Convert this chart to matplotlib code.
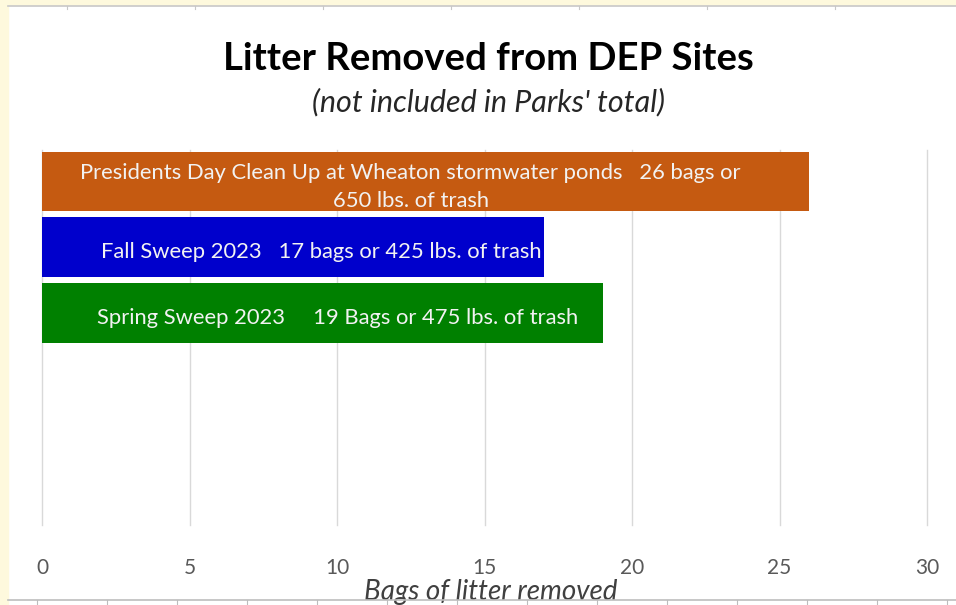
import matplotlib.pyplot as plt
from matplotlib.lines import Line2D
from matplotlib.patches import Rectangle

# chart data
events = ["Presidents Day", "Fall Sweep 2023", "Spring Sweep 2023"]
bags = [26, 17, 19]
bar_colors = ["#C55A11", "#0000CC", "#008000"]
bar_labels = [
    "Presidents Day Clean Up at Wheaton stormwater ponds   26 bags or\n650 lbs. of trash",
    "Fall Sweep 2023   17 bags or 425 lbs. of trash",
    "Spring Sweep 2023     19 Bags or 475 lbs. of trash",
]
x_ticks = [0, 5, 10, 15, 20, 25, 30]

# where the label text sits inside each bar (data units)
label_x = [12.5, 9.46, 10.03]

FONT = "Lato"

fig = plt.figure(figsize=(9.56, 6.05), dpi=100)
fig.patch.set_facecolor("white")

# cream screenshot border on the left and top
fig.add_artist(Rectangle((0, 0), 8 / 956, 1, transform=fig.transFigure,
                         color="#FEF9DD", zorder=0))
fig.add_artist(Rectangle((0, 1 - 5 / 605), 1, 5 / 605, transform=fig.transFigure,
                         color="#FEF9DD", zorder=0))
fig.add_artist(Line2D([8 / 956, 1], [1 - 6 / 605] * 2, transform=fig.transFigure,
                      color="#C8C8C8", lw=1.2))
fig.add_artist(Line2D([8 / 956, 1], [1 - 600 / 605] * 2, transform=fig.transFigure,
                      color="#BDBDBD", lw=1.2, zorder=5))
for px in range(67, 956, 128):
    fig.add_artist(Line2D([px / 956] * 2, [1 - 6 / 605, 1 - 9 / 605],
                          transform=fig.transFigure, color="#C8C8C8", lw=0.8))
for px in range(37, 956, 70):
    fig.add_artist(Line2D([px / 956] * 2, [1 - 600 / 605, 0],
                          transform=fig.transFigure, color="#BDBDBD", lw=0.8))

ax = fig.add_axes([42 / 956, 80 / 605, 885 / 956, 375 / 605])
ypos = list(range(len(events)))
ax.barh(ypos, bags, height=0.91, color=bar_colors, zorder=2)

for y, lx, txt in zip(ypos, label_x, bar_labels):
    ax.text(lx, y + 0.08, txt, ha="center", va="center", color="#F2F2F2",
            fontsize=15.8, family=FONT, linespacing=1.5, zorder=3)

ax.set_xlim(0, 30)
ax.set_ylim(5.23, -0.48)
ax.set_xticks(x_ticks)
ax.set_xticklabels([str(t) for t in x_ticks], family=FONT, fontsize=15,
                   color="#595959")
ax.set_yticks([])
ax.tick_params(axis="x", length=0, pad=24)
ax.grid(axis="x", color="#D9D9D9", lw=1, zorder=0)
for gl in ax.get_xgridlines():
    gl.set_clip_on(False)
for s in ax.spines.values():
    s.set_visible(False)

fig.text(491 / 956, 1 - 600 / 605, "Bags of litter removed", ha="center",
         va="baseline", style="italic", family=FONT, fontsize=20, color="#404040")
fig.text(488 / 956, 1 - 70 / 605, "Litter Removed from DEP Sites", ha="center",
         va="baseline", weight="bold", family=FONT, fontsize=27.5, color="black")
fig.text(488 / 956, 1 - 102 / 605, "(not included in Parks' total)", ha="center",
         va="center", style="italic", family=FONT, fontsize=22, color="#262626")

fig.savefig("out.png", dpi=100)
